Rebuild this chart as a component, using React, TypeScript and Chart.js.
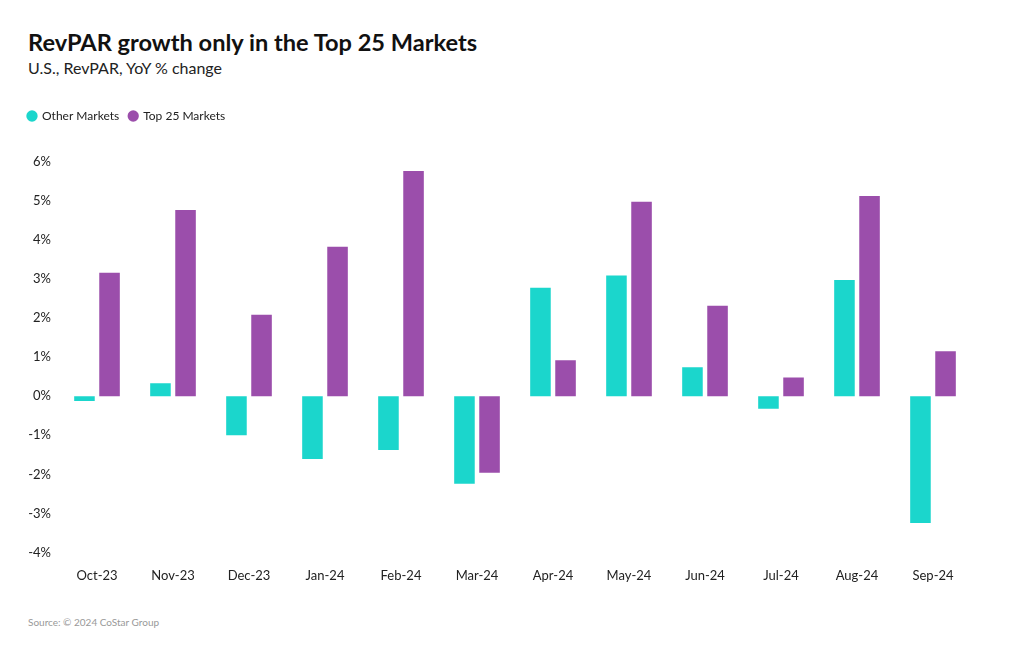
import React, { useEffect, useRef } from "react";
import { Chart, registerables } from "chart.js";

Chart.register(...registerables);

const categories = ["Oct-23", "Nov-23", "Dec-23", "Jan-24", "Feb-24", "Mar-24", "Apr-24", "May-24", "Jun-24", "Jul-24", "Aug-24", "Sep-24"];
const otherMarkets = [-0.12, 0.33, -1.0, -1.61, -1.38, -2.24, 2.78, 3.09, 0.74, -0.32, 2.98, -3.25];
const top25Markets = [3.16, 4.77, 2.09, 3.83, 5.77, -1.96, 0.92, 4.98, 2.32, 0.48, 5.13, 1.15];
const seriesNames = ["Other Markets", "Top 25 Markets"];
const yMin = -4;
const yMax = 6;

const FONT = "Lato, 'Noto Sans', sans-serif";

const legendSpacer = {
  id: "legendSpacer",
  beforeInit(chart: any) {
    const orig = chart.legend.fit;
    chart.legend.fit = function () {
      orig.call(this);
      this.height += 30;
    };
  },
};

export default function App() {
  const ref = useRef<HTMLCanvasElement | null>(null);
  useEffect(() => {
    if (!ref.current) return;
    const chart = new Chart(ref.current, {
      type: "bar",
      data: {
        labels: categories,
        datasets: [
          { label: seriesNames[0], data: otherMarkets, backgroundColor: "#1bd6cc", borderWidth: 0, barPercentage: 0.82, categoryPercentage: 0.66 },
          { label: seriesNames[1], data: top25Markets, backgroundColor: "#9b4eab", borderWidth: 0, barPercentage: 0.82, categoryPercentage: 0.66 },
        ],
      },
      plugins: [legendSpacer],
      options: {
        animation: false,
        responsive: false,
        maintainAspectRatio: false,
        layout: { padding: { left: 18, right: 49, top: 0, bottom: 0 } },
        plugins: {
          legend: {
            position: "top",
            align: "start",
            labels: {
              usePointStyle: true,
              pointStyle: "circle",
              boxWidth: 8,
              boxHeight: 8,
              padding: 10,
              color: "#222",
              font: { family: FONT, size: 12 },
            },
          },
          tooltip: { enabled: false },
        },
        scales: {
          x: {
            grid: { display: false, drawTicks: false },
            border: { display: false },
            ticks: { color: "#222", font: { family: FONT, size: 13 }, padding: 16 },
          },
          y: {
            min: yMin,
            max: yMax,
            grid: { display: false, drawTicks: false },
            border: { display: false },
            afterFit: (s: any) => { s.width = 41; },
            ticks: {
              stepSize: 1,
              padding: 8,
              color: "#222",
              font: { family: FONT, size: 13 },
              callback: (v: any) => `${v}%`,
            },
          },
        },
      },
    });
    return () => chart.destroy();
  }, []);

  return (
    <div style={{ position: "absolute", left: 0, top: 0, width: 1020, height: 650, background: "#fff", fontFamily: FONT, color: "#111" }}>
      <div style={{ position: "absolute", left: 28, top: 28, fontSize: 23.6, fontWeight: 700, whiteSpace: "nowrap" }}>RevPAR growth only in the Top 25 Markets</div>
      <div style={{ position: "absolute", left: 28, top: 58, fontSize: 16, color: "#222", whiteSpace: "nowrap" }}>U.S., RevPAR, YoY % change</div>
      <canvas ref={ref} width={1020} height={500} style={{ position: "absolute", left: 0, top: 100, width: 1020, height: 500 }} />
      <div style={{ position: "absolute", left: 28, top: 616, fontSize: 10, color: "#999", whiteSpace: "nowrap" }}>Source: © 2024 CoStar Group</div>
    </div>
  );
}
